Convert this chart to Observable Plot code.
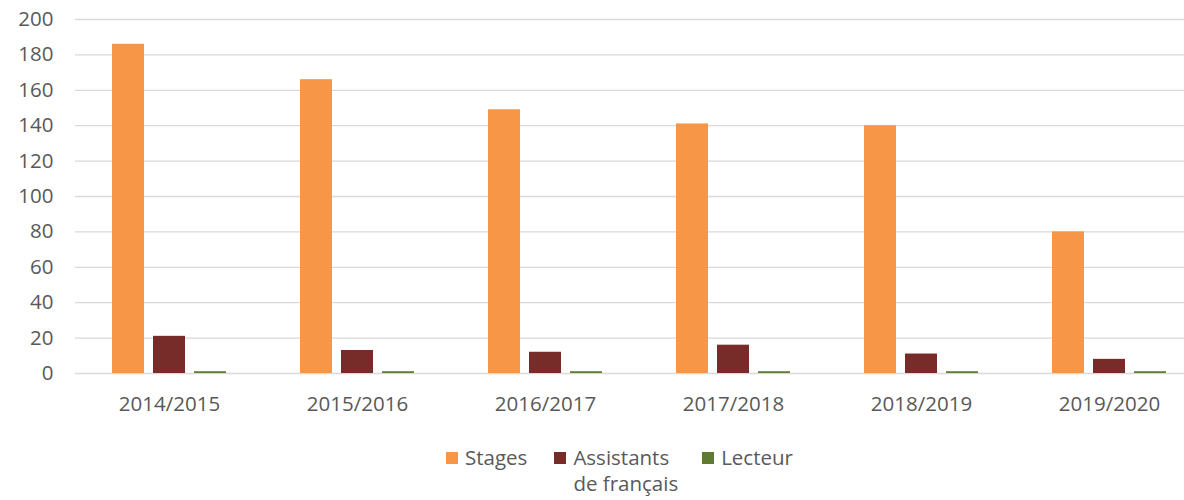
<!DOCTYPE html>
<html>
<head>
<meta charset="utf-8">
<script src="https://cdn.jsdelivr.net/npm/d3@7"></script>
<script src="https://cdn.jsdelivr.net/npm/@observablehq/plot@0.6"></script>
<style>
  html, body { margin: 0; padding: 0; background: #fff; }
  body { width: 1184px; height: 500px; overflow: hidden; font-family: "Open Sans", sans-serif; color: #595959; }
  #legend { display: flex; justify-content: center; align-items: flex-start; padding-left: 55px; margin-top: 14px; font-size: 20.5px; line-height: 26px; }
  .item { display: flex; align-items: flex-start; }
  .sw { width: 12px; height: 12px; margin-top: 8px; margin-right: 7px; }
  .gap1 { width: 27px; }
  .gap2 { width: 24px; }
</style>
</head>
<body>
<div id="chart"></div>
<div id="legend"></div>
<script>
const years = ["2014/2015", "2015/2016", "2016/2017", "2017/2018", "2018/2019", "2019/2020"];
const seriesNames = ["Stages", "Assistants de français", "Lecteur"];
const stages = [186, 166, 149, 141, 140, 80];
const assistants = [21, 13, 12, 16, 11, 8];
const lecteur = [1, 1, 1, 1, 1, 1];
const colors = ["#F79646", "#772C2A", "#5E7B2F"];
const yTicks = [0, 20, 40, 60, 80, 100, 120, 140, 160, 180, 200];

const seriesValues = [stages, assistants, lecteur];
const data = years.flatMap((year, i) =>
  seriesNames.map((s, j) => ({year, series: s, value: seriesValues[j][i]}))
);

const chart = Plot.plot({
  width: 1184,
  height: 430,
  marginLeft: 74,
  marginRight: -20,
  marginTop: 19,
  marginBottom: 57,
  style: {fontSize: "20.5px", fontFamily: "Open Sans, sans-serif", color: "#595959", background: "#fff"},
  fx: {domain: years, padding: 0, label: null, tickSize: 0, tickPadding: 23},
  x: {domain: seriesNames, paddingInner: 0.22, paddingOuter: 0.87, axis: null},
  y: {domain: [0, 200], ticks: yTicks, tickSize: 0, tickPadding: 22, label: null},
  color: {domain: seriesNames, range: colors},
  marks: [
    Plot.ruleY(yTicks, {stroke: "#d9d9d9", strokeWidth: 1.3}),
    Plot.barY(data, {fx: "year", x: "series", y: "value", fill: "series"})
  ]
});
document.getElementById("chart").appendChild(chart);

const legend = document.getElementById("legend");
const labels = [["Stages"], ["Assistants", "de français"], ["Lecteur"]];
labels.forEach((lines, i) => {
  if (i > 0) {
    const g = document.createElement("div");
    g.className = i === 1 ? "gap1" : "gap2";
    legend.appendChild(g);
  }
  const item = document.createElement("div");
  item.className = "item";
  const sw = document.createElement("div");
  sw.className = "sw";
  sw.style.background = colors[i];
  const txt = document.createElement("div");
  txt.innerHTML = lines.join("<br>");
  item.appendChild(sw);
  item.appendChild(txt);
  legend.appendChild(item);
});
</script>
</body>
</html>
